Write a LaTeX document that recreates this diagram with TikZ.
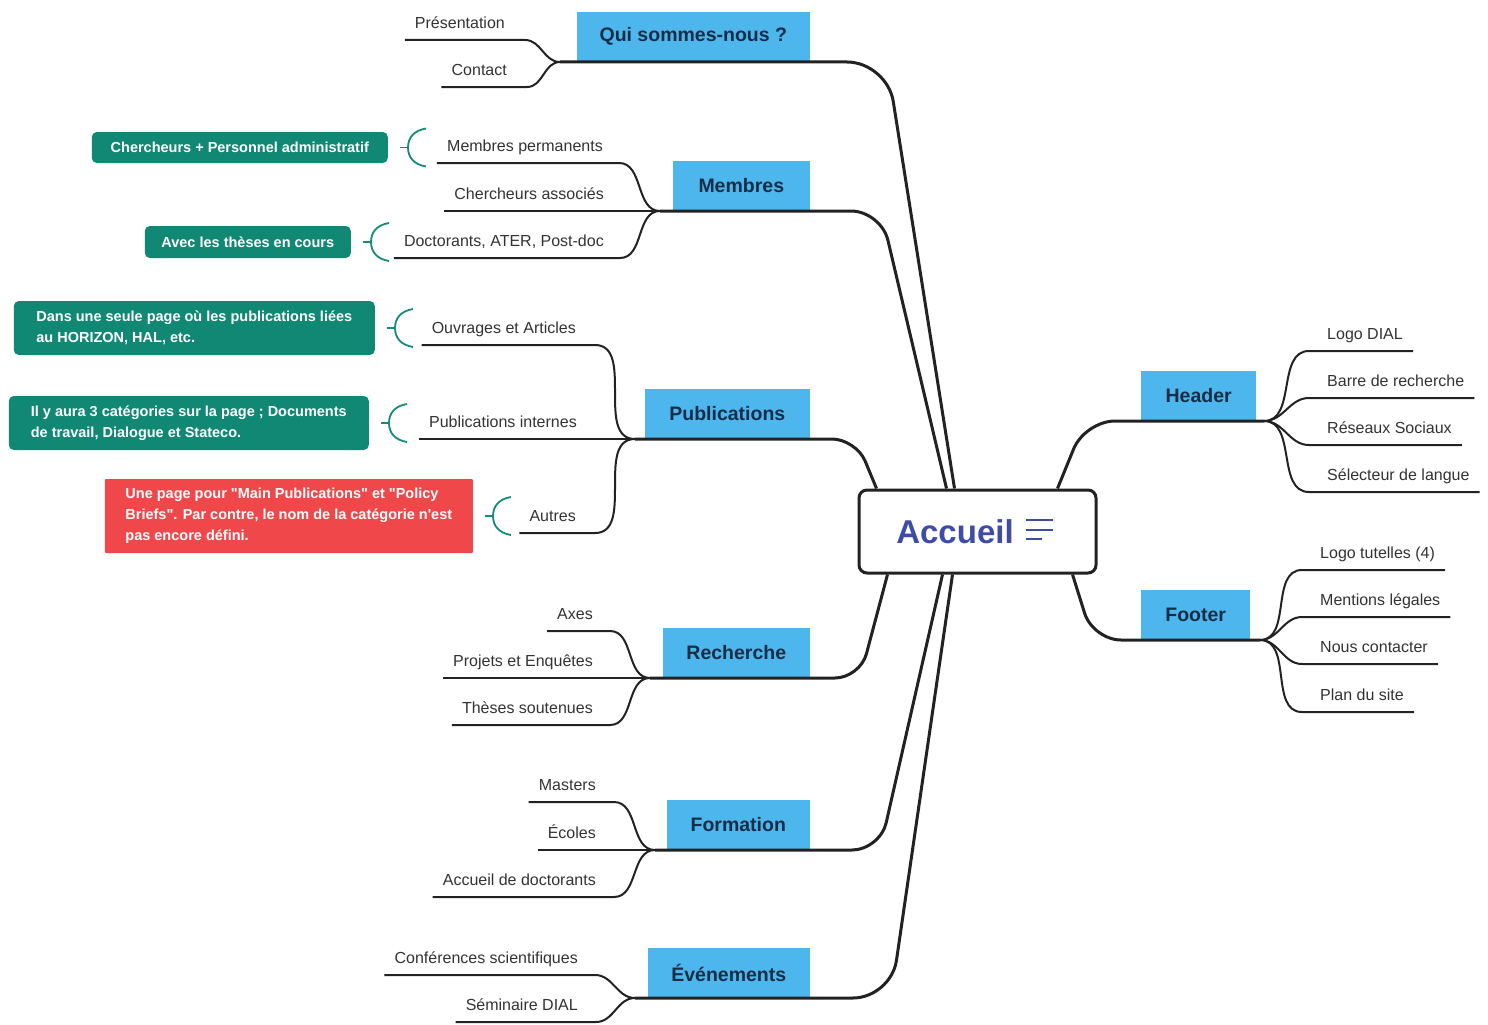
\documentclass[tikz,border=0pt]{standalone}
\usepackage{fontspec}
\setmainfont{Liberation Sans}[Ligatures=TeXOff]
\usetikzlibrary{calc}
\definecolor{topicblue}{RGB}{77,182,236}
\definecolor{topictext}{RGB}{22,45,72}
\definecolor{calloutgreen}{RGB}{16,136,116}
\definecolor{calloutred}{RGB}{240,72,74}
\definecolor{rootblue}{RGB}{62,76,168}
\definecolor{linecol}{RGB}{34,34,34}
\definecolor{subtext}{RGB}{51,51,51}
\definecolor{bracecol}{RGB}{20,140,120}
\newcommand\calloutbrace[1]{%
  \draw[bracestyle] ([xshift=12pt]#1.east) -- ([xshift=20pt]#1.east);
  \draw[bracestyle] ([xshift=38pt,yshift=19pt]#1.east) .. controls +(-12,2) and +(0,-10) .. ([xshift=20pt]#1.east) .. controls +(0,10) and +(-12,-2) .. ([xshift=38pt,yshift=-19pt]#1.east);}
\begin{document}
\begin{tikzpicture}[x=1pt,y=-1pt,
  topic/.style={fill=topicblue, anchor=south east, minimum height=50pt, inner sep=0pt, text=topictext, font=\fontsize{19.5}{22}\selectfont\bfseries},
  topicR/.style={topic, anchor=south west},
  subL/.style={anchor=south east, inner sep=0pt, text depth=11pt, text=subtext, font=\fontsize{16}{19}\selectfont},
  subR/.style={subL, anchor=south west},
  mainline/.style={draw=linecol, line width=3pt},
  subline/.style={draw=linecol, line width=2pt},
  callG/.style={fill=calloutgreen, rounded corners=5pt, text=white, anchor=east, align=left, inner xsep=13pt, inner ysep=0pt, font=\fontsize{14.5}{21}\selectfont\bfseries},
  callR/.style={callG, fill=calloutred, rounded corners=1pt},
  bracestyle/.style={draw=bracecol, line width=1.8pt},
]
\useasboundingbox (0,0) rectangle (1488,1025);
\fill[white] (0,0) rectangle (1488,1025);

% root
\node[draw=linecol, line width=3pt, rounded corners=8pt, fill=white, minimum width=237pt, minimum height=83pt, inner sep=0pt,
      text=rootblue, font=\fontsize{33}{36}\selectfont\bfseries] (root) at (977.5,531.5) {Accueil\hspace*{45pt}\mbox{}};
\draw[rootblue, line width=2.8pt] ($(root.center)+(48,-11.5)$) -- ++(27,0);
\draw[rootblue, line width=2.8pt] ($(root.center)+(48,-1.5)$) -- ++(27,0);
\draw[rootblue, line width=2.8pt] ($(root.center)+(48,7.5)$) -- ++(16,0);

% main topics
\node[topic, minimum width=233pt] (qui) at (810,62) {Qui sommes-nous ?};
\node[topic, minimum width=137pt] (mem) at (810,211) {Membres};
\node[topic, minimum width=165pt] (pub) at (810,439) {Publications};
\node[topic, minimum width=147pt] (rec) at (810,678) {Recherche};
\node[topic, minimum width=143pt] (form) at (810,850) {Formation};
\node[topic, minimum width=162pt] (even) at (810,998) {Événements};
\node[topicR, minimum width=115pt] (head) at (1141,421) {Header};
\node[topicR, minimum width=109pt] (foot) at (1141,640) {Footer};

% junctions
\coordinate (jqui) at (560,62);
\coordinate (jmem) at (660,211);
\coordinate (jpub) at (635,439);
\coordinate (jrec) at (650,678);
\coordinate (jform) at (655,850);
\coordinate (jeven) at (635,998);
\coordinate (jhead) at (1264,421);
\coordinate (jfoot) at (1260,640);

% attach points on root
\coordinate (rqui) at ([xshift=97pt]root.north west);
\coordinate (rmem) at ([xshift=89pt]root.north west);
\coordinate (rpub) at ([xshift=19pt]root.north west);
\coordinate (rhead) at ([xshift=200pt]root.north west);
\coordinate (rrec) at ([xshift=30pt]root.south west);
\coordinate (rform) at ([xshift=85pt]root.south west);
\coordinate (reven) at ([xshift=95pt]root.south west);
\coordinate (rfoot) at ([xshift=215pt]root.south west);

% main connectors
\draw[mainline, rounded corners=40pt] (rqui) -- (887,62) -- (jqui);
\draw[mainline, rounded corners=30pt] (rmem) -- (881,211) -- (jmem);
\draw[mainline, rounded corners=24pt] (rpub) -- (856,439) -- (jpub);
\draw[mainline, rounded corners=25pt] (rrec) -- (860,678) -- (jrec);
\draw[mainline, rounded corners=28pt] (rform) -- (880,850) -- (jform);
\draw[mainline, rounded corners=38pt] (reven) -- (891,998) -- (jeven);
\draw[mainline, rounded corners=30pt] (rhead) -- (1085,421) -- (jhead);
\draw[mainline, rounded corners=28pt] (rfoot) -- (1093,640) -- (jfoot);

% sub topics left
\node[subL] (pres) at (505,40) {Présentation};
\node[subL] (cont) at (507,87) {Contact};
\draw[subline] (jqui) to[out=180,in=0] ([xshift=20pt]pres.south east) -- ([xshift=-10pt]pres.south west);
\draw[subline] (jqui) to[out=180,in=0] ([xshift=20pt]cont.south east) -- ([xshift=-10pt]cont.south west);

\node[subL] (perm) at (603,163) {Membres permanents};
\node[subL] (assoc) at (604,211) {Chercheurs associés};
\node[subL] (doct) at (604,258) {Doctorants, ATER, Post-doc};
\draw[subline] (jmem) to[out=180,in=0] ([xshift=16pt]perm.south east) -- ([xshift=-10pt]perm.south west);
\draw[subline] (jmem) -- ([xshift=-10pt]assoc.south west);
\draw[subline] (jmem) to[out=180,in=0] ([xshift=16pt]doct.south east) -- ([xshift=-10pt]doct.south west);

\node[subL] (ouv) at (576,345) {Ouvrages et Articles};
\node[subL] (pint) at (577,439) {Publications internes};
\node[subL] (autr) at (576,533) {Autres};
\draw[subline] (jpub) to[out=180,in=0] ([xshift=19pt]ouv.south east) -- ([xshift=-10pt]ouv.south west);
\draw[subline] (jpub) -- ([xshift=-10pt]pint.south west);
\draw[subline] (jpub) to[out=180,in=0] ([xshift=19pt]autr.south east) -- ([xshift=-10pt]autr.south west);

\node[subL] (axes) at (593,631) {Axes};
\node[subL] (proj) at (593,678) {Projets et Enquêtes};
\node[subL] (these) at (593,725) {Thèses soutenues};
\draw[subline] (jrec) to[out=180,in=0] ([xshift=17pt]axes.south east) -- ([xshift=-10pt]axes.south west);
\draw[subline] (jrec) -- ([xshift=-10pt]proj.south west);
\draw[subline] (jrec) to[out=180,in=0] ([xshift=17pt]these.south east) -- ([xshift=-10pt]these.south west);

\node[subL] (mast) at (596,802) {Masters};
\node[subL] (ecol) at (596,850) {Écoles};
\node[subL] (accd) at (596,897) {Accueil de doctorants};
\draw[subline] (jform) to[out=180,in=0] ([xshift=18pt]mast.south east) -- ([xshift=-10pt]mast.south west);
\draw[subline] (jform) -- ([xshift=-10pt]ecol.south west);
\draw[subline] (jform) to[out=180,in=0] ([xshift=18pt]accd.south east) -- ([xshift=-10pt]accd.south west);

\node[subL] (conf) at (578,975) {Conférences scientifiques};
\node[subL] (semi) at (578,1022) {Séminaire DIAL};
\draw[subline] (jeven) to[out=180,in=0] ([xshift=17pt]conf.south east) -- ([xshift=-10pt]conf.south west);
\draw[subline] (jeven) to[out=180,in=0] ([xshift=18pt]semi.south east) -- ([xshift=-10pt]semi.south west);

% sub topics right
\node[subR] (logo) at (1327,351) {Logo DIAL};
\node[subR] (barre) at (1327,398) {Barre de recherche};
\node[subR] (reso) at (1327,445) {Réseaux Sociaux};
\node[subR] (selec) at (1327,492) {Sélecteur de langue};
\foreach \n in {logo,barre,reso,selec}
  \draw[subline] (jhead) to[out=0,in=180] ([xshift=-18pt]\n.south west) -- ([xshift=10pt]\n.south east);

\node[subR] (ltut) at (1320,570) {Logo tutelles (4)};
\node[subR] (ment) at (1320,617) {Mentions légales};
\node[subR] (nous) at (1320,664) {Nous contacter};
\node[subR] (plan) at (1320,712) {Plan du site};
\foreach \n in {ltut,ment,nous,plan}
  \draw[subline] (jfoot) to[out=0,in=180] ([xshift=-18pt]\n.south west) -- ([xshift=10pt]\n.south east);

% callouts
\node[callG, minimum width=296pt, minimum height=31pt] (cg1) at (388,147.5) {Chercheurs + Personnel administratif};
\node[callG, minimum width=206pt, minimum height=32pt] (cg2) at (351,242) {Avec les thèses en cours};
\node[callG, minimum width=361pt, minimum height=54pt] (cg3) at (375,328) {Dans une seule page où les publications liées\\au HORIZON, HAL, etc.};
\node[callG, minimum width=360pt, minimum height=54pt] (cg4) at (369,423) {Il y aura 3 catégories sur la page ; Documents\\de travail, Dialogue et Stateco.};
\node[callR, minimum width=368pt, minimum height=74pt] (cr) at (473,516) {Une page pour "Main Publications" et "Policy\\Briefs". Par contre, le nom de la catégorie n'est\\pas encore défini.};
\calloutbrace{cg1}
\calloutbrace{cg2}
\calloutbrace{cg3}
\calloutbrace{cg4}
\calloutbrace{cr}
\end{tikzpicture}
\end{document}
